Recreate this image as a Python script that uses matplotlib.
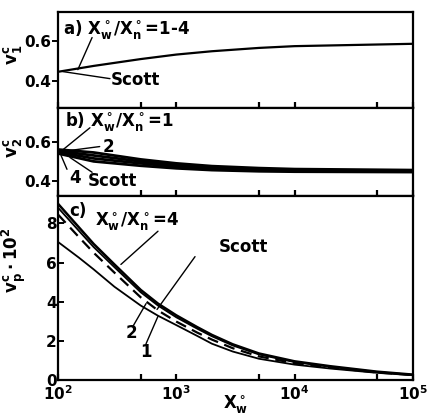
import matplotlib
matplotlib.use("Agg")
import matplotlib.pyplot as plt

plt.rcParams['font.family'] = 'DejaVu Sans'
plt.rcParams['font.weight'] = 'bold'
plt.rcParams['mathtext.default'] = 'bf'
plt.rcParams['axes.linewidth'] = 1.6

# panel a) v1 - all ratios and Scott coincide
xa = [100, 200, 500, 1000, 2000, 5000, 1e4, 1e5]
va = [0.445, 0.475, 0.51, 0.533, 0.55, 0.567, 0.576, 0.588]

# panel b) v2
xb = [100, 200, 500, 1000, 2000, 5000, 1e4, 1e5]
vb_1 = [0.56, 0.545, 0.51, 0.49, 0.476, 0.466, 0.461, 0.456]
vb_2 = [0.553, 0.53, 0.5, 0.481, 0.469, 0.46, 0.456, 0.452]
vb_4 = [0.547, 0.515, 0.49, 0.473, 0.463, 0.455, 0.452, 0.449]
vb_scott = [0.54, 0.5, 0.478, 0.465, 0.456, 0.45, 0.448, 0.446]

# panel c) vp * 10^2
xc = [100, 150, 200, 300, 500, 700, 1000, 1500, 2000, 3000, 5000, 1e4, 2e4, 5e4, 1e5]
vc_4 = [9.0, 7.8, 6.95, 5.9, 4.6, 3.9, 3.3, 2.7, 2.3, 1.82, 1.35, 0.95, 0.7, 0.42, 0.27]
vc_2 = [8.8, 7.62, 6.79, 5.76, 4.48, 3.8, 3.2, 2.62, 2.23, 1.76, 1.3, 0.91, 0.67, 0.4, 0.26]
vc_scott = [8.45, 7.3, 6.5, 5.48, 4.22, 3.55, 2.98, 2.42, 2.06, 1.62, 1.2, 0.85, 0.63, 0.38, 0.25]
vc_1 = [7.05, 6.25, 5.65, 4.76, 3.8, 3.28, 2.8, 2.25, 1.85, 1.45, 1.08, 0.78, 0.58, 0.36, 0.24]

fig = plt.figure(figsize=(4.3, 4.17), dpi=100)
L, W = 0.135, 0.825
ax_a = fig.add_axes([L, 0.741, W, 0.230])
ax_b = fig.add_axes([L, 0.530, W, 0.211])
ax_c = fig.add_axes([L, 0.089, W, 0.441])

lead = dict(arrowstyle='-', color='k', lw=1.0, shrinkA=0, shrinkB=0)
fs = 12
tfs = 11

for ax in (ax_a, ax_b, ax_c):
    ax.set_xscale('log')
    ax.set_xlim(100, 1e5)
    ax.set_xticks([100, 500, 1000, 5000, 1e4, 5e4, 1e5])
    ax.minorticks_off()
    ax.tick_params(axis='x', direction='in', length=4, width=1.6, labelsize=tfs)
    ax.tick_params(axis='y', width=1.4, length=4, labelsize=tfs, pad=1)

# a)
ax_a.plot(xa, va, color='k', lw=1.6)
ax_a.set_ylim(0.26, 0.75)
ax_a.set_yticks([0.4, 0.6])
ax_a.set_yticklabels(['0.4', '0.6'])
ax_a.tick_params(axis='y', direction='out')
ax_a.set_xticklabels([])
ax_a.set_ylabel(r'$v_1^c$', fontsize=fs)
ax_a.yaxis.set_label_coords(-0.095, 0.55)
ax_a.text(110, 0.66, r'a) $X_w^\circ/X_n^\circ$=1-4', fontsize=fs, va='center')
ax_a.annotate('', xy=(147, 0.456), xytext=(194, 0.62), arrowprops=lead)
ax_a.text(280, 0.405, 'Scott', fontsize=fs, va='center')
ax_a.annotate('', xy=(110, 0.446), xytext=(275, 0.41), arrowprops=lead)

# b)
for v in (vb_1, vb_2, vb_4, vb_scott):
    ax_b.plot(xb, v, color='k', lw=2.0)
ax_b.set_ylim(0.325, 0.77)
ax_b.set_yticks([0.4, 0.6])
ax_b.set_yticklabels(['0.4', '0.6'])
ax_b.tick_params(axis='y', direction='out')
ax_b.set_xticklabels([])
ax_b.set_ylabel(r'$v_2^c$', fontsize=fs)
ax_b.yaxis.set_label_coords(-0.095, 0.55)
ax_b.text(115, 0.70, r'b) $X_w^\circ/X_n^\circ$=1', fontsize=fs, va='center')
ax_b.annotate('', xy=(108, 0.555), xytext=(186, 0.67), arrowprops=lead)
ax_b.text(240, 0.575, '2', fontsize=fs, va='center')
ax_b.annotate('', xy=(108, 0.55), xytext=(225, 0.575), arrowprops=lead)
ax_b.text(124, 0.415, '4', fontsize=fs, va='center')
ax_b.annotate('', xy=(106, 0.53), xytext=(119, 0.46), arrowprops=lead)
ax_b.text(180, 0.40, 'Scott', fontsize=fs, va='center')
ax_b.annotate('', xy=(126, 0.52), xytext=(194, 0.445), arrowprops=lead)

# c)
ax_c.plot(xc, vc_4, color='k', lw=1.8)
ax_c.plot(xc, vc_2, color='k', lw=1.3)
ax_c.plot(xc, vc_scott, color='k', lw=1.6, ls=(0, (5, 3)))
ax_c.plot(xc, vc_1, color='k', lw=1.3)
ax_c.set_ylim(0, 9.4)
ax_c.set_yticks([0, 2, 4, 6, 8])
ax_c.tick_params(axis='y', direction='in')
ax_c.set_ylabel(r'$v_p^c\cdot10^2$', fontsize=fs)
ax_c.yaxis.set_label_coords(-0.085, 0.65)
ax_c.set_xlabel(r'$X_w^\circ$', fontsize=fs)
ax_c.xaxis.set_label_coords(0.5, -0.075)
ax_c.set_xticklabels([r'$10^2$', '', r'$10^3$', '', r'$10^4$', '', r'$10^5$'])
ax_c.text(124, 8.65, 'c)', fontsize=fs, va='center')
ax_c.text(205, 8.1, r'$X_w^\circ/X_n^\circ$=4', fontsize=fs, va='center')
ax_c.annotate('', xy=(340, 5.9), xytext=(700, 7.6), arrowprops=lead)
ax_c.text(2300, 6.8, 'Scott', fontsize=fs, va='center')
ax_c.annotate('', xy=(687, 3.6), xytext=(1440, 6.3), arrowprops=lead)
ax_c.text(370, 2.4, '2', fontsize=fs, va='center')
ax_c.annotate('', xy=(555, 3.9), xytext=(431, 2.75), arrowprops=lead)
ax_c.text(495, 1.4, '1', fontsize=fs, va='center')
ax_c.annotate('', xy=(700, 3.25), xytext=(555, 1.85), arrowprops=lead)

fig.savefig('out.png', dpi=100)
